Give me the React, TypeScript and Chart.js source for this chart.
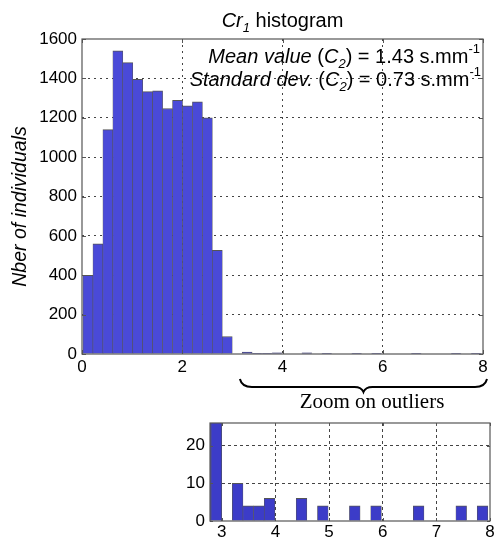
import React, { useEffect, useRef } from 'react';
import { Chart, registerables } from 'chart.js';

Chart.register(...registerables);

// ---------- data ----------
const BIN_START = 0.02;
const BIN_WIDTH = 0.1985;
const counts = [
  400, 560, 1140, 1540, 1480, 1395, 1333, 1337, 1247, 1289, 1261, 1281, 1200, 527, 89,
  0, 10, 4, 4, 6,
  0, 0, 6, 0, 4,
  0, 0, 4, 0, 4,
  0, 0, 0, 4, 0,
  0, 0, 4, 0, 4,
];
const mainXTicks = [0, 2, 4, 6, 8];
const mainYTicks = [0, 200, 400, 600, 800, 1000, 1200, 1400, 1600];
const insetXTicks = [3, 4, 5, 6, 7, 8];
const insetYTicks = [0, 10, 20];

type Seg = { t: string; it?: boolean; sub?: boolean; sup?: boolean };
const titleSegs: Seg[] = [{ t: 'Cr', it: true }, { t: '1', it: true, sub: true }, { t: ' histogram' }];
const meanSegs: Seg[] = [
  { t: 'Mean value ', it: true }, { t: '(' }, { t: 'C', it: true }, { t: '2', it: true, sub: true },
  { t: ')' }, { t: ' = 1.43 s.mm' }, { t: '-1', sup: true },
];
const stdSegs: Seg[] = [
  { t: 'Standard dev. ', it: true }, { t: '(' }, { t: 'C', it: true }, { t: '2', it: true, sub: true },
  { t: ')' }, { t: ' = 0.73 s.mm' }, { t: '-1', sup: true },
];
const yTitle = 'Nber of individuals';
const zoomLabel = 'Zoom on outliers';

const SANS = '"Liberation Sans", Arial, Helvetica, sans-serif';
const SERIF = '"Liberation Serif", "Times New Roman", serif';

const W = 494;
const H = 539;

function drawSegs(ctx: CanvasRenderingContext2D, segs: Seg[], x: number, y: number, size: number, align: 'left' | 'right' | 'center') {
  const fontFor = (s: Seg) => `${s.it ? 'italic ' : ''}${s.sub || s.sup ? Math.round(size * 0.66) : size}px ${SANS}`;
  const widths = segs.map((s) => {
    ctx.font = fontFor(s);
    return ctx.measureText(s.t).width;
  });
  const total = widths.reduce((a, b) => a + b, 0);
  let cx = align === 'right' ? x - total : align === 'center' ? x - total / 2 : x;
  ctx.textAlign = 'left';
  ctx.textBaseline = 'alphabetic';
  segs.forEach((s, i) => {
    ctx.font = fontFor(s);
    const dy = s.sub ? size * 0.24 : s.sup ? -size * 0.48 : 0;
    ctx.fillText(s.t, cx, y + dy);
    cx += widths[i];
  });
}

function drawFrame(chart: any, tickLen: number) {
  const ctx: CanvasRenderingContext2D = chart.ctx;
  const a = chart.chartArea;
  const xs = chart.scales.x;
  const ys = chart.scales.y;
  ctx.save();
  ctx.strokeStyle = '#555555';
  ctx.lineWidth = 1;
  ctx.beginPath();
  xs.ticks.forEach((t: any) => {
    const px = Math.round(xs.getPixelForValue(t.value)) + 0.5;
    ctx.moveTo(px, a.bottom);
    ctx.lineTo(px, a.bottom - tickLen);
    ctx.moveTo(px, a.top);
    ctx.lineTo(px, a.top + tickLen);
  });
  ys.ticks.forEach((t: any) => {
    const py = Math.round(ys.getPixelForValue(t.value)) + 0.5;
    ctx.moveTo(a.left, py);
    ctx.lineTo(a.left + tickLen, py);
    ctx.moveTo(a.right, py);
    ctx.lineTo(a.right - tickLen, py);
  });
  ctx.stroke();
  ctx.lineWidth = 1.2;
  ctx.strokeRect(a.left, a.top, a.right - a.left, a.bottom - a.top);
  ctx.restore();
}

const mainOverlay = {
  id: 'mainOverlay',
  afterDraw(chart: any) {
    const ctx: CanvasRenderingContext2D = chart.ctx;
    const a = chart.chartArea;
    const xs = chart.scales.x;
    drawFrame(chart, 4);
    ctx.save();
    ctx.fillStyle = '#000';
    // title
    drawSegs(ctx, titleSegs, (a.left + a.right) / 2, 27, 20, 'center');
    // annotations
    drawSegs(ctx, meanSegs, a.right - 3, 63, 20, 'right');
    drawSegs(ctx, stdSegs, a.right - 2, 86, 20, 'right');
    // y title
    ctx.save();
    ctx.translate(21, (a.top + a.bottom) / 2 + 10);
    ctx.rotate(-Math.PI / 2);
    ctx.font = `italic 19.5px ${SANS}`;
    ctx.textAlign = 'center';
    ctx.textBaseline = 'middle';
    ctx.fillText(yTitle, 0, 0);
    ctx.restore();
    // brace
    const bL = xs.getPixelForValue(3.15);
    const bR = xs.getPixelForValue(8.08);
    const mid = (bL + bR) / 2;
    const yEnd = 379;
    const yLine = 387;
    const yTip = 392;
    ctx.strokeStyle = '#000';
    ctx.lineWidth = 2;
    ctx.beginPath();
    ctx.moveTo(bL, yEnd);
    ctx.quadraticCurveTo(bL + 2, yLine, bL + 12, yLine);
    ctx.lineTo(mid - 9, yLine);
    ctx.quadraticCurveTo(mid - 2, yLine, mid, yTip);
    ctx.quadraticCurveTo(mid + 2, yLine, mid + 9, yLine);
    ctx.lineTo(bR - 12, yLine);
    ctx.quadraticCurveTo(bR - 2, yLine, bR, yEnd);
    ctx.stroke();
    // zoom label
    ctx.font = `21px ${SERIF}`;
    ctx.textAlign = 'center';
    ctx.textBaseline = 'alphabetic';
    ctx.fillText(zoomLabel, 372, 408);
    ctx.restore();
  },
};

const insetOverlay = {
  id: 'insetOverlay',
  afterDraw(chart: any) {
    drawFrame(chart, 3);
  },
};

function barData() {
  return counts.map((c, i) => ({ x: BIN_START + (i + 0.5) * BIN_WIDTH, y: c }));
}

function makeScales(opts: {
  xMin: number; xMax: number; yMin: number; yMax: number; xTicks: number[]; yTicks: number[];
  yWidth: number; xHeight: number; dash: number[]; xPad: number; yPad: number;
}) {
  const gridColor = (edgeVals: number[]) => (c: any) =>
    c.tick && edgeVals.includes(c.tick.value) ? 'rgba(0,0,0,0)' : '#444444';
  const fmt = (v: any) => String(v);
  return {
    x: {
      type: 'linear' as const,
      min: opts.xMin,
      max: opts.xMax,
      offset: false,
      afterBuildTicks: (s: any) => { s.ticks = opts.xTicks.map((v) => ({ value: v })); },
      afterFit: (s: any) => { s.height = opts.xHeight; s.paddingLeft = 0; s.paddingRight = 0; },
      ticks: { font: { family: SANS, size: 17 }, color: '#000', padding: opts.xPad, maxRotation: 0, autoSkip: false, callback: fmt },
      grid: { drawTicks: false, offset: false, color: gridColor([opts.xMin, opts.xMax]), lineWidth: 1 },
      border: { display: false, dash: opts.dash },
    },
    y: {
      type: 'linear' as const,
      min: opts.yMin,
      max: opts.yMax,
      afterBuildTicks: (s: any) => { s.ticks = opts.yTicks.map((v) => ({ value: v })); },
      afterFit: (s: any) => { s.width = opts.yWidth; s.paddingTop = 0; s.paddingBottom = 0; },
      ticks: { font: { family: SANS, size: 17 }, color: '#000', padding: opts.yPad, autoSkip: false, callback: fmt },
      grid: { drawTicks: false, color: gridColor([opts.yMin, opts.yMax]), lineWidth: 1 },
      border: { display: false, dash: opts.dash },
    },
  };
}

export default function App() {
  const mainRef = useRef<HTMLCanvasElement>(null);
  const insetRef = useRef<HTMLCanvasElement>(null);

  useEffect(() => {
    if (!mainRef.current || !insetRef.current) return;
    const main = new Chart(mainRef.current, {
      type: 'bar',
      data: {
        datasets: [{
          data: barData(),
          backgroundColor: '#4a4ad8',
          borderColor: '#555555',
          borderWidth: { top: 1, left: 0.6, right: 0.6, bottom: 0 },
          borderSkipped: false,
          barPercentage: 1,
          categoryPercentage: 1,
          grouped: false,
        }],
      },
      options: {
        responsive: false,
        animation: false,
        devicePixelRatio: 1,
        layout: { padding: { left: 0, top: 39, right: 11, bottom: H - 354 - 30 } },
        plugins: { legend: { display: false }, tooltip: { enabled: false }, title: { display: false } },
        scales: makeScales({
          xMin: 0, xMax: 8, yMin: 0, yMax: 1600, xTicks: mainXTicks, yTicks: mainYTicks,
          yWidth: 82, xHeight: 30, dash: [2, 4], xPad: 3, yPad: 5,
        }) as any,
      },
      plugins: [mainOverlay],
    } as any);

    const inset = new Chart(insetRef.current, {
      type: 'bar',
      data: {
        datasets: [{
          data: barData(),
          backgroundColor: '#3c3cc8',
          borderColor: '#555555',
          borderWidth: { top: 1, left: 0.6, right: 0.6, bottom: 0 },
          borderSkipped: false,
          barPercentage: 1,
          categoryPercentage: 1,
          grouped: false,
        }],
      },
      options: {
        responsive: false,
        animation: false,
        devicePixelRatio: 1,
        layout: { padding: { left: 0, top: 423, right: 4, bottom: 0 } },
        plugins: { legend: { display: false }, tooltip: { enabled: false }, title: { display: false } },
        scales: makeScales({
          xMin: 2.78, xMax: 8, yMin: 0, yMax: 26, xTicks: insetXTicks, yTicks: insetYTicks,
          yWidth: 210, xHeight: 18, dash: [3, 3], xPad: 1, yPad: 5,
        }) as any,
      },
      plugins: [insetOverlay],
    } as any);

    return () => {
      main.destroy();
      inset.destroy();
    };
  }, []);

  const cstyle: React.CSSProperties = { position: 'absolute', left: 0, top: 0, width: W, height: H };
  return (
    <div style={{ position: 'fixed', left: 0, top: 0, width: W, height: H, background: '#fff' }}>
      <canvas ref={mainRef} width={W} height={H} style={cstyle} />
      <canvas ref={insetRef} width={W} height={H} style={cstyle} />
    </div>
  );
}
